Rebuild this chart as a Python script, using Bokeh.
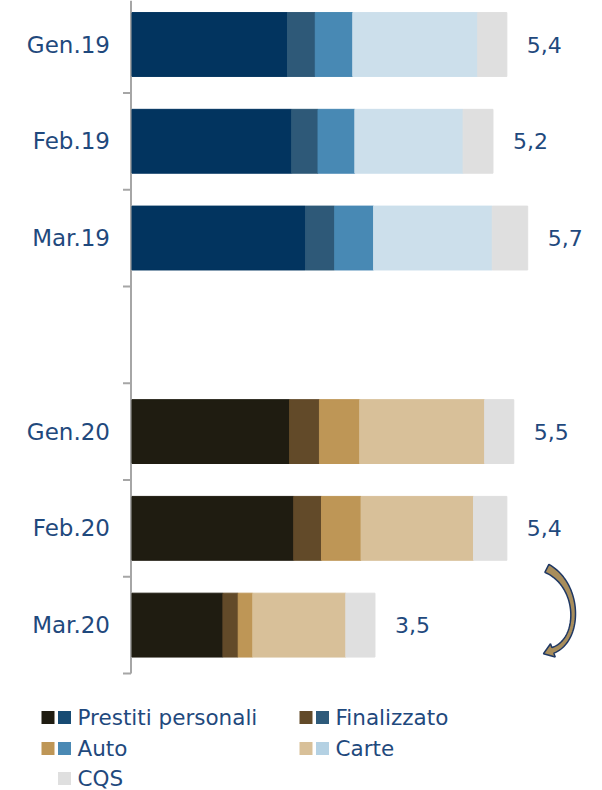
import numpy as np
from bokeh.plotting import figure
from bokeh.models import Range1d, ColumnDataSource
from bokeh.embed import file_html
from bokeh.resources import INLINE
from bokeh.core.properties import value

# ---------------- data ----------------
slots = ["Gen.19", "Feb.19", "Mar.19", "", "Gen.20", "Feb.20", "Mar.20"]
months19 = ["Gen.19", "Feb.19", "Mar.19"]
months20 = ["Gen.20", "Feb.20", "Mar.20"]
series = ["Prestiti personali", "Finalizzato", "Auto", "Carte", "CQS"]

prestiti19 = [2.24, 2.30, 2.50]
finalizzato19 = [0.40, 0.38, 0.42]
auto19 = [0.54, 0.53, 0.56]
carte19 = [1.80, 1.56, 1.71]
cqs19 = [0.42, 0.43, 0.51]

prestiti20 = [2.27, 2.33, 1.31]
finalizzato20 = [0.43, 0.40, 0.22]
auto20 = [0.58, 0.57, 0.21]
carte20 = [1.80, 1.62, 1.34]
cqs20 = [0.42, 0.48, 0.42]

totals19 = [5.4, 5.2, 5.7]
totals20 = [5.5, 5.4, 3.5]

# ---------------- style ----------------
FONT = "DejaVu Sans"
NAVY = "#1F497D"
GRAY_AX = "#A6A6A6"
colors19 = ["#02345F", "#2E5978", "#4889B4", "#CCDFEB", "#DFDFDF"]
colors20 = ["#1F1C11", "#624A29", "#BE9656", "#D8C099", "#DFDFDF"]
legend_blue = ["#174B73", "#2E5A7A", "#4A89B4", "#B4D1E3", "#DFDFDF"]

W, H = 590, 790
ORIGIN_PX = 131.5          # pixel column of value 0
XS = 69.42                 # pixels per unit of value
YS = 96.77                 # pixels per category slot
FIRST_CENTER_PX = 44       # pixel row of first slot centre

n = len(slots)
ypos = {m: n - 1 - i for i, m in enumerate(slots) if m}
top_y = (n - 1) + FIRST_CENTER_PX / YS
bot_y = top_y - H / YS


def dx(px):  # pixel column -> data x
    return (px - ORIGIN_PX) / XS


def dy(py):  # pixel row -> data y
    return top_y - py / YS


p = figure(width=W, height=H, x_range=Range1d(dx(0), dx(W)), y_range=Range1d(bot_y, top_y),
           output_backend="svg", toolbar_location=None, x_axis_location=None,
           y_axis_location=None, min_border=0)
p.outline_line_color = None
p.grid.visible = False
p.background_fill_color = "white"
p.border_fill_color = "white"

# ---- category axis (line, boundary ticks, labels) ----
bounds = [n - 1 - i - 0.5 for i in range(n)]
axis_x = -1.0 / XS
p.segment(x0=[axis_x], y0=[bounds[-1]], x1=[axis_x], y1=[top_y], line_color=GRAY_AX, line_width=2)
p.segment(x0=[axis_x] * len(bounds), y0=bounds, x1=[axis_x - 8 / XS] * len(bounds), y1=bounds,
          line_color=GRAY_AX, line_width=2)
lab_src = ColumnDataSource(dict(x=[0.0] * len(ypos), y=list(ypos.values()), t=list(ypos.keys())))
p.text(x="x", y="y", text="t", source=lab_src, x_offset=-22, text_align="right",
       text_baseline="middle", text_font=value(FONT), text_font_size="23px", text_color=NAVY)

# ---- stacked bars ----
keys = ["p", "f", "a", "c", "q"]
src19 = ColumnDataSource(dict(y=[ypos[m] for m in months19], p=prestiti19, f=finalizzato19,
                              a=auto19, c=carte19, q=cqs19, total=totals19,
                              label=[f"{t:.1f}".replace(".", ",") for t in totals19]))
src20 = ColumnDataSource(dict(y=[ypos[m] for m in months20], p=prestiti20, f=finalizzato20,
                              a=auto20, c=carte20, q=cqs20, total=totals20,
                              label=[f"{t:.1f}".replace(".", ",") for t in totals20]))
BAR_H = 0.66
p.hbar_stack(keys, y="y", height=BAR_H, color=colors19, source=src19)
p.hbar_stack(keys, y="y", height=BAR_H, color=colors20, source=src20)

for src in (src19, src20):
    p.text(x="total", y="y", text="label", source=src, x_offset=20,
           text_align="left", text_baseline="middle", text_font=value(FONT),
           text_font_size="22px", text_color=NAVY)

# ---- curved arrow Feb.20 -> Mar.20, anchored to the Feb.20 bar end ----
ax, ay = totals20[1], ypos["Feb.20"]
P = np.array([[40, 40], [74, 57], [74, 112], [46, 122]], float)
t = np.linspace(0, 1, 50)
B = (((1 - t) ** 3)[:, None] * P[0] + (3 * (1 - t) ** 2 * t)[:, None] * P[1]
     + (3 * (1 - t) * t ** 2)[:, None] * P[2] + (t ** 3)[:, None] * P[3])
D = ((3 * (1 - t) ** 2)[:, None] * (P[1] - P[0]) + (6 * (1 - t) * t)[:, None] * (P[2] - P[1])
     + (3 * t ** 2)[:, None] * (P[3] - P[2]))
T = D / np.linalg.norm(D, axis=1)[:, None]
N = np.stack([-T[:, 1], T[:, 0]], axis=1)
hw = 4.5 * (1 - t) ** 2 + 1.0 * 2 * t * (1 - t) + 3.0 * t ** 2
sideA = B + N * hw[:, None]
sideB = B - N * hw[:, None]
end, Tend, Nend = B[-1], T[-1], N[-1]
tip = end + Tend * 10
poly = np.vstack([sideA, end + Nend * 7, tip, end - Nend * 7, sideB[::-1]])
p.patch(ax + poly[:, 0] / XS, ay - poly[:, 1] / YS,
        fill_color="#A88D5B", line_color="#1F3864", line_width=1.5)

# ---- legend (double swatches) ----
col_base = [41, 299]
row_py = [717, 748, 778]
SW = 13
gx, gy, gc, bx, by, bc, tx, ty, tt = [], [], [], [], [], [], [], [], []
for i, name in enumerate(series):
    c, r = i % 2, i // 2
    base = col_base[c]
    if name != "CQS":
        gx.append(dx(base + 6.5)); gy.append(dy(row_py[r])); gc.append(colors20[i])
    bx.append(dx(base + 23)); by.append(dy(row_py[r])); bc.append(legend_blue[i])
    tx.append(dx(base + 36)); ty.append(dy(row_py[r])); tt.append(name)

p.rect(x=gx, y=gy, width=SW / XS, height=SW / YS, fill_color=gc, line_color=None)
p.rect(x=bx, y=by, width=SW / XS, height=SW / YS, fill_color=bc, line_color=None)
p.text(x=tx, y=ty, text=tt, text_align="left", text_baseline="middle",
       text_font=value(FONT), text_font_size="21.5px", text_color=NAVY)

open("out.html", "w").write(file_html(p, INLINE))
